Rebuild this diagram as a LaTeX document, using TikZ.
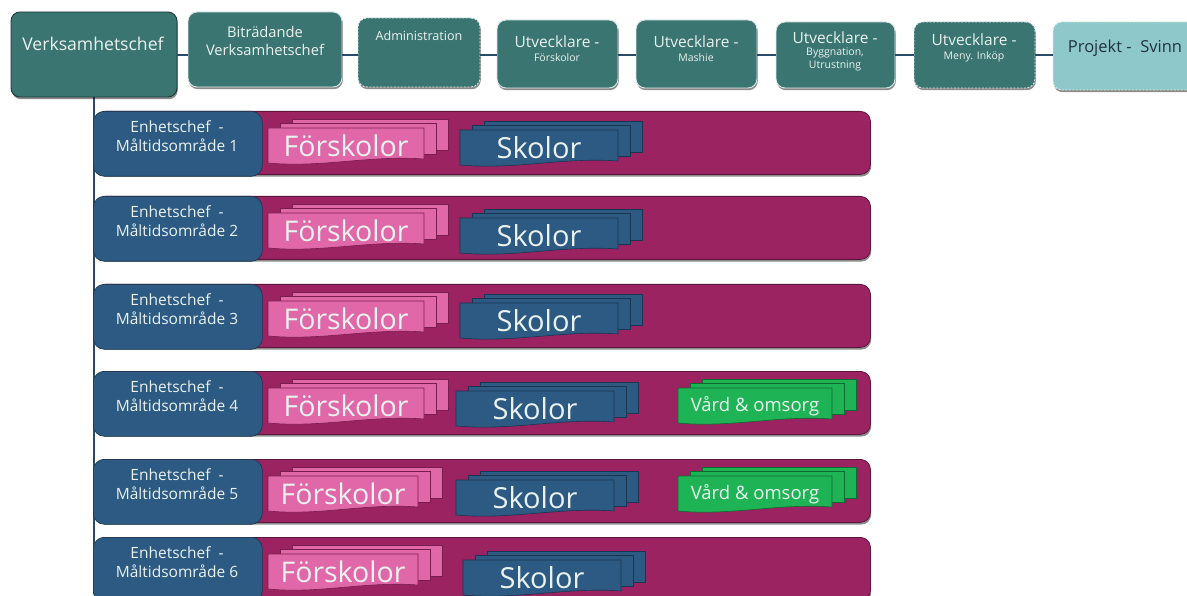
\documentclass[tikz,border=0pt]{standalone}
\usepackage{fontspec}
\setmainfont{Open Sans}
\usetikzlibrary{shadows}
\definecolor{tealbox}{HTML}{3A7571}
\definecolor{tealedge}{HTML}{D9E8E6}
\definecolor{tealdark}{HTML}{1E3B3A}
\definecolor{lightteal}{HTML}{8FC8CA}
\definecolor{navy}{HTML}{2C5A82}
\definecolor{navyedge}{HTML}{1B3550}
\definecolor{plum}{HTML}{9B2362}
\definecolor{plumedge}{HTML}{5E163C}
\definecolor{pinkcard}{HTML}{E068A8}
\definecolor{pinkedge}{HTML}{7A1C4E}
\definecolor{greencard}{HTML}{1EB455}
\definecolor{greenedge}{HTML}{0E6A30}
\definecolor{linkcol}{HTML}{2A4A6B}
\definecolor{lighttext}{HTML}{EAF2F0}
\definecolor{darktext}{HTML}{1F3345}
\tikzset{
  x=1pt, y=-1pt,
  shad/.style={drop shadow={shadow xshift=0.8pt, shadow yshift=-2.2pt, opacity=0.45, fill=black}},
  topbox/.style={shad, fill=tealbox, draw=tealedge, line width=0.9pt, rounded corners=9pt,
                 anchor=north west, inner sep=0pt, outer sep=0pt},
  dashbox/.style={topbox, dashed, dash pattern=on 2pt off 1.5pt},
  bartxt/.style={text=lighttext, align=center, inner sep=0pt, font=\fontsize{14.7}{18}\selectfont},
  link/.style={draw=linkcol, line width=2pt},
  trunk/.style={draw=linkcol, line width=1.8pt},
  plumbar/.style={shad, fill=plum, draw=plumedge, line width=0.8pt, rounded corners=10pt,
                  anchor=north west, inner sep=0pt, minimum width=775pt, minimum height=63pt},
  unitbox/.style={fill=navy, draw=navyedge, line width=0.6pt, rounded corners=11pt,
                  anchor=north west, inner sep=0pt, minimum width=169pt, minimum height=65pt},
  cardtxt/.style={text=lighttext, inner sep=0pt, anchor=center},
}
% #1 name, #2 x, #3 top y, #4 width, #5 height, #6 fill, #7 edge, #8 text, #9 font size
\newcommand\cardstack[9]{%
  \filldraw[fill=#6, draw=#7, line width=0.6pt] (#2+24,#3-9) rectangle (#2+#4+24,#3+#5-14);
  \filldraw[fill=#6, draw=#7, line width=0.6pt] (#2+12,#3-5) rectangle (#2+#4+12,#3+#5-10);
  \filldraw[fill=#6, draw=#7, line width=0.6pt] (#2,#3) -- (#2+#4,#3) -- (#2+#4,#3+#5-5)
     .. controls (#2+0.65*#4,#3+#5-9) and (#2+0.35*#4,#3+#5+4) .. (#2,#3+#5-1) -- cycle;
  \node[cardtxt, font=\fontsize{#9}{#9}\selectfont] (#1) at (#2+0.5*#4,#3+0.5*#5) {#8};
}
\begin{document}
\begin{tikzpicture}
\useasboundingbox (0,0) rectangle (1187,596);
\fill[white] (0,0) rectangle (1187,596);

% trunk
\coordinate (trunkend) at (94,594);
\draw[trunk] (94,90) -- (trunkend);

% top row boxes
\node[topbox, draw=tealdark, minimum width=166pt, minimum height=85pt] (vc) at (11,12) {};
\node[topbox, minimum width=154pt, minimum height=75pt] (bit) at (188,12) {};
\node[dashbox, minimum width=122pt, minimum height=69pt] (adm) at (358,18) {};
\node[topbox, minimum width=121pt, minimum height=68pt] (u1) at (497,20) {};
\node[topbox, minimum width=121pt, minimum height=68pt] (u2) at (636,20) {};
\node[topbox, minimum width=119pt, minimum height=66pt] (u3) at (776,22) {};
\node[dashbox, minimum width=121pt, minimum height=66pt] (u4) at (914,22) {};
\node[dashbox, fill=lightteal, minimum width=150pt, minimum height=68pt] (proj) at (1053,22) {};

% top row texts
\node[bartxt, font=\fontsize{17.6}{20}\selectfont] (tvc) at (93,44) {Verksamhetschef};
\node[bartxt] (tbit) at (265,41) {Biträdande\\Verksamhetschef};
\node[bartxt, font=\fontsize{12.6}{14}\selectfont] (tadm) at (419,36) {Administration};
\node[bartxt, font=\fontsize{15.5}{16}\selectfont] (tu1) at (557,49) {Utvecklare -\\[-2pt]{\fontsize{10.5}{11}\selectfont Förskolor}};
\node[bartxt, font=\fontsize{15.5}{16}\selectfont] (tu2) at (696,49) {Utvecklare -\\[-2pt]{\fontsize{10.5}{11}\selectfont Mashie}};
\node[bartxt, font=\fontsize{10.5}{12.5}\selectfont] (tu3) at (835,51) {{\fontsize{15.5}{16}\selectfont Utvecklare -}\\Byggnation,\\Utrustning};
\node[bartxt, font=\fontsize{15.5}{16}\selectfont] (tu4) at (974,48) {Utvecklare -\\[-2pt]{\fontsize{10.5}{11}\selectfont Meny. Inköp}};
\node[bartxt, text=darktext, font=\fontsize{16.5}{18}\selectfont] (tproj) at (1125,48) {Projekt -\ \ Svinn};

% top connectors
\coordinate (ly) at (0,55);
\draw[link] (vc.east |- ly) -- (bit.west |- ly);
\draw[link] (bit.east |- ly) -- (adm.west |- ly);
\draw[link] (adm.east |- ly) -- (u1.west |- ly);
\draw[link] (u1.east |- ly) -- (u2.west |- ly);
\draw[link] (u2.east |- ly) -- (u3.west |- ly);
\draw[link] (u3.east |- ly) -- (u4.west |- ly);
\draw[link] (u4.east |- ly) -- (proj.west |- ly);

% rows
\foreach \r/\t/\fw/\sx/\sdy in {1/111/156/460/19, 2/196/156/460/22, 3/284/156/460/19, 4/371/156/456/20, 5/459/150/456/21, 6/537/150/463/23}{
  \node[plumbar] (bar\r) at (95,\t) {};
  \node[unitbox] (unit\r) at (93,\t) {};
  \node[bartxt, font=\fontsize{15.5}{19.5}\selectfont] (tunit\r) at (177,\t+25) {Enhetschef\ \ -\\Måltidsområde \r};
  \cardstack{fsk\r}{268}{\t+17}{\fw}{36}{pinkcard}{pinkedge}{Förskolor}{28.5}
  \cardstack{sk\r}{\sx}{\t+\sdy}{158}{36}{navy}{navyedge}{Skolor}{29}
}
\cardstack{vo4}{678}{388}{154}{36}{greencard}{greenedge}{Vård \& omsorg}{18.5}
\cardstack{vo5}{678}{476}{154}{36}{greencard}{greenedge}{Vård \& omsorg}{18.5}
\end{tikzpicture}
\end{document}
